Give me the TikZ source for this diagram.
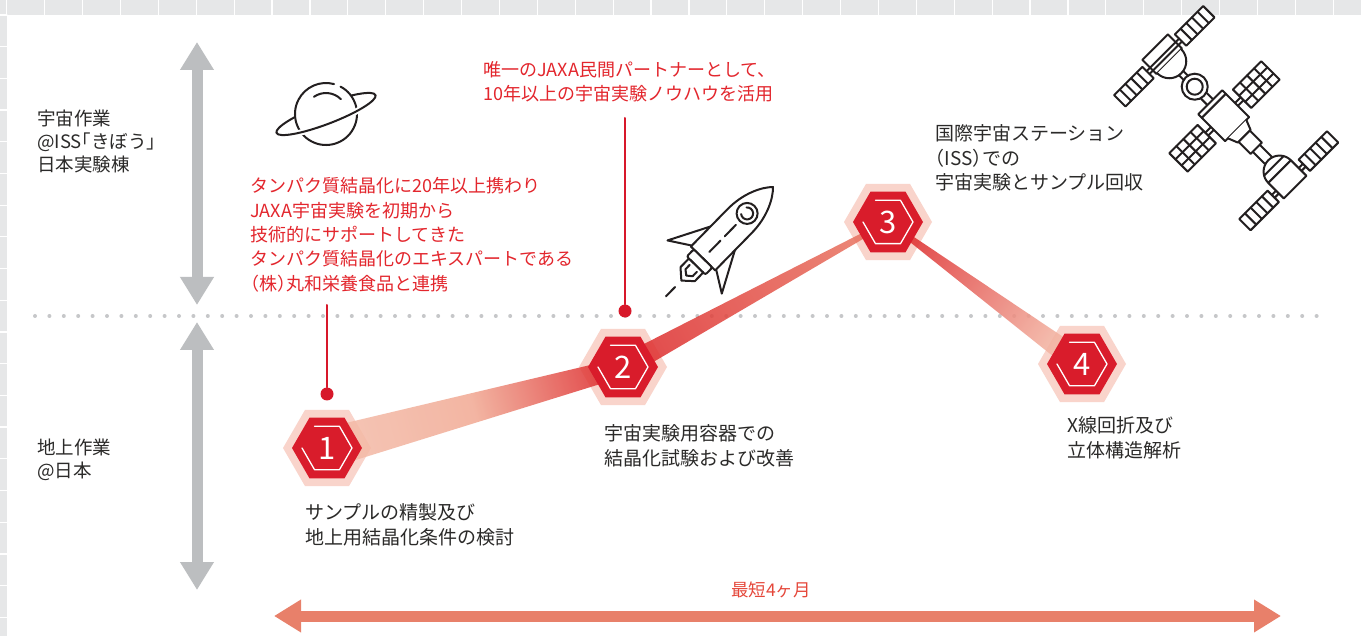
\documentclass[tikz,border=0pt]{standalone}
\usepackage{fontspec}
\setmainfont{Noto Sans CJK JP}
\newfontfamily\halfp[RawFeature=+halt]{Noto Sans CJK JP}
\usetikzlibrary{arrows.meta,calc}

\definecolor{gridgray}{HTML}{E6E7E8}
\definecolor{inkgray}{HTML}{2B2A29}
\definecolor{iconink}{HTML}{231F20}
\definecolor{notered}{HTML}{E3262D}
\definecolor{pinred}{HTML}{D7182A}
\definecolor{hexred}{HTML}{D91C2B}
\definecolor{hexpale}{HTML}{F9D4CB}
\definecolor{bandpale}{HTML}{F4BBA8}
\definecolor{bandsoft}{HTML}{F1A993}
\definecolor{bandred}{HTML}{DE2F2F}
\definecolor{bandmid}{HTML}{E8705E}
\definecolor{arrowgray}{HTML}{BCBEC0}
\definecolor{dotgray}{HTML}{C6C7C9}
\definecolor{timeorange}{HTML}{E8806A}
\definecolor{monthred}{HTML}{E5473A}

\tikzset{
  note/.style={anchor=north west, inner sep=0pt, align=left, text=inkgray, font=\fontsize{19}{24.5}\selectfont},
  rednote/.style={note, text=notered, font=\fontsize{18}{24.3}\selectfont},
  sidenote/.style={note, font=\fontsize{18.5}{23}\selectfont},
  hexnum/.style={text=white, font=\fontsize{31}{31}\selectfont, inner sep=0pt},
  pindot/.style={circle, fill=pinred, inner sep=0pt, minimum size=13pt},
  pinline/.style={draw=pinred, line width=2pt},
  grayarrow/.style={draw=arrowgray, line width=11pt, line cap=butt, arrows={Triangle[width=32pt,length=28pt]-Triangle[width=32pt,length=28pt]}},
  timearrow/.style={draw=timeorange, line width=11pt, line cap=butt, arrows={Triangle[width=31pt,length=27pt]-Triangle[width=31pt,length=27pt]}},
  dotline/.style={draw=dotgray, line width=4pt, line cap=round, dash pattern=on 0pt off 14.4pt},
  icon/.style={draw=iconink, line width=2pt},
  band/.style={fill opacity=0.85},
}

% pale halo behind a step
\newcommand{\palehex}[1]{%
  \fill[hexpale, shift={(#1)}] (0:44) -- (60:44) -- (120:44) -- (180:44) -- (240:44) -- (300:44) -- cycle;}
% red step badge with its number
\newcommand{\stephex}[2]{%
  \begin{scope}[shift={(#1)}]
    \fill[hexred] (0:35) -- (60:35) -- (120:35) -- (180:35) -- (240:35) -- (300:35) -- cycle;
    \draw[white, line width=1.3pt] (240:25) -- (300:25) -- (0:25) -- (60:25) -- (120:25) -- (180:25);
    \node[hexnum] at (0,0) {#2};
  \end{scope}}

\begin{document}
\begin{tikzpicture}[x=1pt, y=-1pt, line cap=round, line join=round]
\fill[white] (0,0) rectangle (1361,636);
\useasboundingbox (0,0) rectangle (1361,636);

% sheet grid along the top and left edge
\fill[gridgray] (0,0) rectangle (1361,15);
\fill[gridgray] (0,15) rectangle (7,636);
\foreach \gx in {0,...,35}
  \draw[white, line width=1.2pt] ({6.7+37.9*\gx},0) -- ++(0,15);
\foreach \gy in {0,...,19}
  \draw[white, line width=1.2pt] (0,{15+31.7*\gy}) -- ++(7,0);

% space / ground split
\coordinate (split l) at (35,316);
\coordinate (split r) at (1330,316);
\draw[dotline] (split l) -- (split r);

\coordinate (space top) at (197,42);
\coordinate (space bot) at (197,305);
\coordinate (ground top) at (197,322);
\coordinate (ground bot) at (197,590);
\draw[grayarrow] (space top) -- (space bot);
\draw[grayarrow] (ground top) -- (ground bot);

\node[sidenote] (space) at (37,109.5) {宇宙作業\\@ISS{\halfp 「}きぼう{\halfp 」}\\日本実験棟};
\node[sidenote] (ground) at (37,438.5) {地上作業\\@日本};

% steps
\coordinate (h1) at (327,448);
\coordinate (h2) at (623,367);
\coordinate (h3) at (888,222);
\coordinate (h4) at (1082,364);

\palehex{h1} \palehex{h2} \palehex{h3} \palehex{h4}

\shade[band, left color=bandpale, right color=bandred, middle color=bandsoft, shading angle=105.3]
  ($(h1)!20pt!90:(h2)$) -- ($(h2)!9.5pt!-90:(h1)$) -- ($(h2)!9.5pt!90:(h1)$) -- ($(h1)!20pt!-90:(h2)$) -- cycle;
\shade[band, left color=bandred, right color=bandmid, shading angle=118.7]
  ($(h2)!11pt!90:(h3)$) -- ($(h3)!2pt!-90:(h2)$) -- ($(h3)!2pt!90:(h2)$) -- ($(h2)!11pt!-90:(h3)$) -- cycle;
\shade[band, left color=bandred, right color=bandpale, shading angle=53.8]
  ($(h3)!2pt!90:(h4)$) -- ($(h4)!12pt!-90:(h3)$) -- ($(h4)!12pt!90:(h3)$) -- ($(h3)!2pt!-90:(h4)$) -- cycle;

\stephex{h1}{1} \stephex{h2}{2} \stephex{h3}{3} \stephex{h4}{4}

\node[note] (step1) at (305,503.5) {サンプルの精製及び\\地上用結晶化条件の検討};
\node[note] (step2) at (604,424.5) {宇宙実験用容器での\\結晶化試験および改善};
\node[note] (step3) at (935,124.5) {国際宇宙ステーション\\{\halfp （}ISS{\halfp ）}での\\宇宙実験とサンプル回収};
\node[note] (step4) at (1067,416.5) {X線回折及び\\立体構造解析};

% partner call-outs
\node[rednote] (marudai) at (250,177.5) {タンパク質結晶化に20年以上携わり\\JAXA宇宙実験を初期から\\技術的にサポートしてきた\\タンパク質結晶化のエキスパートである\\{\halfp （}株{\halfp ）}丸和栄養食品と連携};
\node[rednote] (partner) at (483,61.5) {唯一のJAXA民間パートナーとして、\\10年以上の宇宙実験ノウハウを活用};

\coordinate (pin1 top) at (327,305);
\node[pindot] (pin1) at (327,394) {};
\draw[pinline] (pin1 top) -- (pin1);
\coordinate (pin2 top) at (625,118);
\node[pindot] (pin2) at (625,311) {};
\draw[pinline] (pin2 top) -- (pin2);

% overall span
\coordinate (span l) at (274,616);
\coordinate (span r) at (1281,616);
\draw[timearrow] (span l) -- (span r);
\node[text=monthred, font=\fontsize{17.5}{20}\selectfont] (span) at (771,590) {最短4ヶ月};

% planet
\begin{scope}[shift={(326,114)}, icon]
  \draw[rotate=20.9] (-53,0) arc[start angle=180, end angle=360, x radius=53, y radius=10];
  \fill[white] (0,0) circle (31);
  \draw (0,0) ++(-62:31) arc[start angle=-62, end angle=285, radius=31];
  \draw (0,0) ++(-125:21) arc[start angle=-125, end angle=-45, radius=21];
  \draw[white, line width=6pt, line cap=butt, rotate=20.9] (0,0) ++(40:53 and 10) arc[start angle=40, end angle=140, x radius=53, y radius=10];
  \draw[rotate=20.9] (53,0) arc[start angle=0, end angle=180, x radius=53, y radius=10];
\end{scope}

% rocket, nose at the origin
\begin{scope}[shift={(773,187)}, rotate=45.6, icon]
  \draw[fill=white] (-70,-16) -- (-112,-38) -- (-98,-16);
  \draw[fill=white] (-70,16) -- (-112,38) -- (-98,16);
  \draw[fill=white] (-100,-17) -- (-48,-17) .. controls (-25,-17) and (-8,-8) .. (0,0)
    .. controls (-8,8) and (-25,17) .. (-48,17) -- (-100,17) -- cycle;
  \draw (-37,0) circle (10.5);
  \draw (-37,0) ++(-50:6) arc[start angle=-50, end angle=220, radius=6];
  \draw[dash pattern=on 16pt off 6pt] (-53,0) -- (-97,0);
  \draw[fill=white, rounded corners=2pt] (-100,-13) rectangle (-110,13);
  \draw[fill=white] (-110,-10) -- (-122,-10) -- (-131,0) -- (-122,10) -- (-110,10) -- cycle;
  \draw (-114,-5) -- (-120,-5) -- (-124,0) -- (-120,5) -- (-114,5);
  \draw (-140,0) -- (-153,0);
\end{scope}

% space station, long axis running down to the right
\begin{scope}[shift={(1223,115)}, rotate=-45, icon]
  % outer solar wings
  \foreach \s in {1,-1} {
    \draw[fill=white] (-91,23*\s) rectangle (-75,63*\s);
    \foreach \k in {1,...,4} \draw (-91,{\s*(23+8*\k)}) -- (-75,{\s*(23+8*\k)});
    \draw[fill=white] (85,22*\s) rectangle (101,62*\s);
    \foreach \k in {1,...,4} \draw (85,{\s*(22+8*\k)}) -- (101,{\s*(22+8*\k)});
    % centre wings
    \draw[fill=white] (-11,25*\s) rectangle (15,65*\s);
    \foreach \k in {1,2,3} \draw (-11,{\s*(25+10*\k)}) -- (15,{\s*(25+10*\k)});
    \foreach \k in {1,2} \draw ({-11+8.67*\k},25*\s) -- ({-11+8.67*\k},65*\s);
    \draw (0,17*\s) -- (0,25*\s) (4,17*\s) -- (4,25*\s);
    \draw (91,16*\s) -- (91,22*\s) (95,16*\s) -- (95,22*\s);
  }
  % first module and dome
  \draw[fill=white] (-96,-18) rectangle (-76,18);
  \draw[fill=white] (-76,-17) arc[start angle=-90, end angle=90, radius=17];
  \draw (-85,-23) -- (-85,23) (-81,-23) -- (-81,23);
  \draw (-59,-3) -- (-53,-3) (-59,3) -- (-53,3);
  % docking ring
  \draw[fill=white] (-40,0) circle (13);
  \draw (-40,0) circle (8);
  \draw (-27,-4) -- (-18,-4) (-27,4) -- (-18,4);
  % truss block
  \draw[fill=white] (-18,-17) rectangle (20,17);
  \draw (-13,-17) -- (-13,17);
  \draw[fill=white] (20,-13) -- (30,-9) -- (30,9) -- (20,13);
  \draw[fill=white] (30,-8) rectangle (47,8);
  \draw (47,-5) -- (64,-5) (47,5) -- (64,5);
  % rear module and dome
  \draw[fill=white] (80,-16) arc[start angle=-90, end angle=-270, radius=16];
  \draw (72,-13.9) -- (72,13.9);
  \draw[fill=white] (80,-16) rectangle (102,16);
\end{scope}
\end{tikzpicture}
\end{document}
